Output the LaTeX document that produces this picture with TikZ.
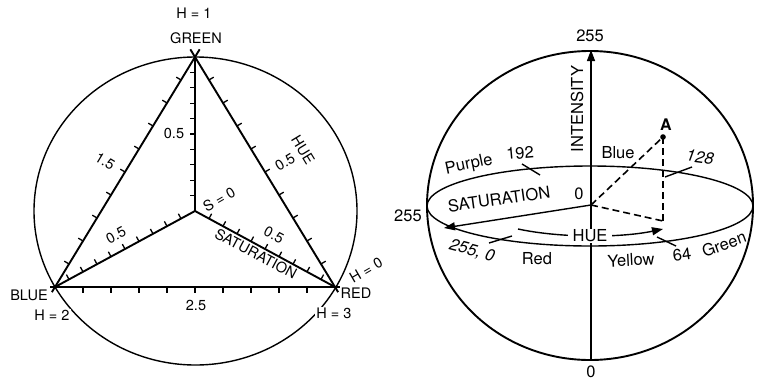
\documentclass[tikz,border=0pt]{standalone}
\usepackage{fontspec}
\setmainfont{TeX Gyre Heros}
\usetikzlibrary{calc,arrows.meta}
\newcommand\myticks[3]{\foreach \i in {1,...,9}{\path ($(#1)!\i/10!(#2)$) coordinate (tk); \draw[tk] (tk) -- ($(tk)!5.5pt!#3:(#2)$);}}
\begin{document}
\begin{tikzpicture}[x=1pt,y=-1pt,
  lbl/.style={font=\fontsize{14.5}{17}\selectfont, inner sep=1pt},
  rlbl/.style={font=\fontsize{16.5}{19}\selectfont, inner sep=1pt},
  edge/.style={line width=1.9pt},
  tk/.style={line width=1.3pt},
  rim/.style={line width=1.4pt},
  sph/.style={line width=1.9pt},
  dsh/.style={line width=1.6pt, dash pattern=on 7pt off 4pt},
  tip/.style={-{Triangle[length=11pt,width=8pt]}}]
\useasboundingbox (0,0) rectangle (759,383);
% ---------------- left diagram ----------------
\coordinate (G) at (195,57);
\coordinate (B) at (55,287);
\coordinate (R) at (335,287);
\coordinate (S) at (195,211);
\draw[rim] (195.5,211) ellipse [x radius=161.5pt, y radius=154pt];
\draw[edge] ($(G)!-9pt!(B)$) -- ($(B)!-6pt!(G)$);
\draw[edge] ($(G)!-9pt!(R)$) -- ($(R)!-6pt!(G)$);
\draw[edge] ($(B)!-5pt!(R)$) -- ($(R)!-5pt!(B)$);
\draw[edge] (G) -- (S);
\draw[edge] (S) -- (B);
\draw[edge] (S) -- (R);
\myticks{G}{B}{-90}
\myticks{G}{R}{90}
\myticks{G}{S}{-90}
\myticks{S}{B}{-90}
\myticks{S}{R}{90}
\myticks{B}{R}{-90}
\node[lbl] (h1) at (194,13) {H = 1};
\node[lbl] (green) at (196,38) {GREEN};
\node[lbl, rotate=-31] (l15) at (105,161) {1.5};
\node[lbl, rotate=31] (l05a) at (285,162) {0.5};
\node[lbl, rotate=-58.7] (hue) at (303,150) {HUE};
\node[lbl] (l05v) at (174,133) {0.5};
\node[lbl, rotate=30] (s0) at (219,199) {S = 0};
\node[lbl, rotate=28] (l05b) at (116,235) {0.5};
\node[lbl, rotate=-28] (l05r) at (274,235) {0.5};
\node[lbl, rotate=-28] (sat) at (256,254) {SATURATION};
\node[lbl] (l25) at (196,305) {2.5};
\node[lbl] (blue) at (29,295) {BLUE};
\node[lbl, fill=white] (h2) at (52,315) {H = 2};
\node[lbl] (red) at (356,293) {RED};
\node[lbl, fill=white] (h3) at (334,313) {H = 3};
\node[lbl, rotate=30] (h0) at (366,270) {H = 0};
% ---------------- right diagram ----------------
\coordinate (O) at (591,205);
\coordinate (Top) at (591,50);
\coordinate (Bot) at (591,360);
\coordinate (Sat) at (444,228);
\coordinate (A) at (663,137);
\coordinate (Ab) at (663,221);
\coordinate (H1) at (518,229);
\coordinate (H2) at (663,229);
\draw[sph] (590,205.5) ellipse [x radius=163pt, y radius=154.5pt];
\draw[rim] (590,206) ellipse [x radius=163pt, y radius=40pt];
\draw[rim, tip] (Bot) -- (Top);
\draw[rim, tip] (O) -- (Sat);
\draw[rim, tip] (H1) .. controls (560,238) and (620,238) .. (H2);
\draw[dsh] (O) -- (A);
\draw[dsh] (A) -- (Ab);
\draw[dsh] (O) -- (Ab);
\fill (A) circle (2.8pt);
\coordinate (t192a) at (522,164); \coordinate (t192b) at (540,175);
\coordinate (t128a) at (665,177); \coordinate (t128b) at (692,167);
\coordinate (t0a) at (489,243); \coordinate (t0b) at (512,236);
\coordinate (t64a) at (657,237); \coordinate (t64b) at (676,246);
\draw[rim] (t192a) -- (t192b);
\draw[rim] (t128a) -- (t128b);
\draw[rim] (t0a) -- (t0b);
\draw[rim] (t64a) -- (t64b);
\node[rlbl, fill=white, inner xsep=5pt, inner ysep=0.5pt] (hueR) at (590,236) {HUE};
\node[rlbl] (i255) at (590,36) {255};
\node[rlbl, rotate=90] (int) at (577,109) {INTENSITY};
\node[rlbl, font=\fontsize{16}{19}\selectfont\bfseries] (Alab) at (666,125) {A};
\node[rlbl] (blueR) at (618,153) {Blue};
\node[rlbl, rotate=12] (purple) at (469,165) {Purple};
\node[rlbl, rotate=5] (n192) at (520,153) {192};
\node[rlbl, rotate=-8, font=\fontsize{16.5}{19}\selectfont\itshape] (n128) at (700,157) {128};
\node[rlbl] (zero) at (579,194) {0};
\node[rlbl, rotate=8] (satR) at (499,199) {SATURATION};
\node[rlbl] (s255) at (408,216) {255};
\node[rlbl, rotate=-15, font=\fontsize{16.5}{19}\selectfont\itshape] (n2550) at (472,251) {255, 0};
\node[rlbl] (redR) at (537,259) {Red};
\node[rlbl, rotate=3] (yellow) at (631,260) {Yellow};
\node[rlbl, rotate=8] (n64) at (682,255) {64};
\node[rlbl, rotate=20] (greenR) at (724,244) {Green};
\node[rlbl] (b0) at (591,372) {0};
\end{tikzpicture}
\end{document}
